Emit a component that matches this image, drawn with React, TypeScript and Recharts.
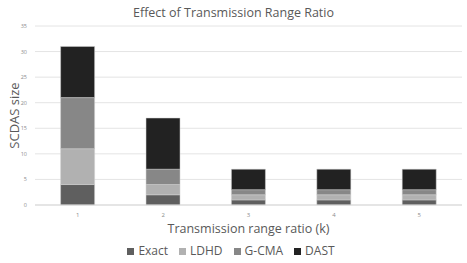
import React from 'react';
import { BarChart, Bar, XAxis, YAxis, CartesianGrid, Legend, Label } from 'recharts';

const ratios = ['1', '2', '3', '4', '5'];
const exact = [4, 2, 1, 1, 1];
const ldhd = [7, 2, 1, 1, 1];
const gcma = [10, 3, 1, 1, 1];
const dast = [10, 10, 4, 4, 4];
const yTicks = [0, 5, 10, 15, 20, 25, 30, 35];

const series = [
  { key: 'Exact', color: '#5f5f5f' },
  { key: 'LDHD', color: '#b1b1b1' },
  { key: 'G-CMA', color: '#878787' },
  { key: 'DAST', color: '#222222' },
];

const data = ratios.map((k, i) => ({
  k,
  Exact: exact[i],
  LDHD: ldhd[i],
  'G-CMA': gcma[i],
  DAST: dast[i],
}));

const font = '"Open Sans", sans-serif';

// legend in series order (recharts sorts by name otherwise)
const renderLegend = () => (
  <div style={{ display: 'flex', justifyContent: 'center', gap: 11, fontSize: 12, color: '#595959', fontFamily: font, lineHeight: '14px', paddingTop: 5 }}>
    {series.map((s) => (
      <span key={s.key} style={{ display: 'flex', alignItems: 'center' }}>
        <span style={{ display: 'inline-block', width: 7, height: 7, background: s.color, marginRight: 4 }} />
        {s.key}
      </span>
    ))}
  </div>
);

const App: React.FC = () => {
  return (
    <div style={{ position: 'absolute', left: 0, top: 0, width: 467, height: 263, background: '#fff', fontFamily: font }}>
      <div style={{ position: 'absolute', top: 4, width: 467, textAlign: 'center', fontSize: 12.5, color: '#595959' }}>
        Effect of Transmission Range Ratio
      </div>
      <BarChart
        width={467}
        height={263}
        data={data}
        margin={{ top: 26, right: 5, left: 0, bottom: 0 }}
        barCategoryGap="30%"
      >
        <CartesianGrid vertical={false} stroke="#e4e4e4" />
        <XAxis
          dataKey="k"
          tick={{ fontSize: 6, fill: '#8c8c8c' }}
          tickLine={false}
          axisLine={{ stroke: '#d9d9d9' }}
          height={34}
        >
          <Label value="Transmission range ratio (k)" position="insideBottom" offset={6} style={{ fontSize: 12.5, fill: '#595959', fontFamily: font }} />
        </XAxis>
        <YAxis
          ticks={yTicks}
          domain={[0, 35]}
          tick={{ fontSize: 5.5, fill: '#8c8c8c' }}
          tickLine={false}
          axisLine={false}
          width={35}
        >
          <Label value="SCDAS size" angle={-90} position="insideLeft" offset={14} style={{ fontSize: 13, fill: '#595959', fontFamily: font, textAnchor: 'middle' }} />
        </YAxis>
        <Legend verticalAlign="bottom" height={24} content={renderLegend} />
        {series.map((s) => (
          <Bar key={s.key} dataKey={s.key} stackId="a" fill={s.color} stroke="#d0d0d0" strokeWidth={0.5} isAnimationActive={false} />
        ))}
      </BarChart>
    </div>
  );
};

export default App;
